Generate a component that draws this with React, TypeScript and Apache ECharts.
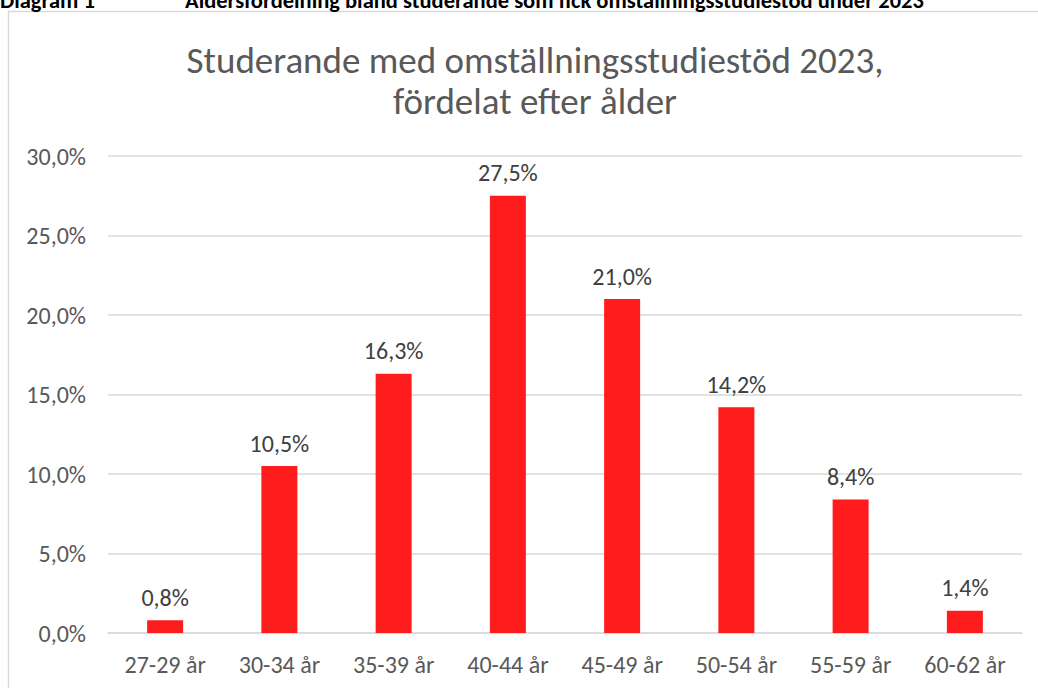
import React, { useEffect, useRef } from "react";
import * as echarts from "echarts";

const categories = ["27-29 år", "30-34 år", "35-39 år", "40-44 år", "45-49 år", "50-54 år", "55-59 år", "60-62 år"];
const shares = [0.8, 10.5, 16.3, 27.5, 21.0, 14.2, 8.4, 1.4];
const yTicks = { min: 0, max: 30, interval: 5 };

const titleLines = ["Studerande med omställningsstudiestöd 2023,", "fördelat efter ålder"];
const headerLabel = "Diagram 1";
const headerText = "Åldersfördelning bland studerande som fick omställningsstudiestöd under 2023";

const FONT = "Carlito, Calibri, 'Noto Sans', sans-serif";

const fmt = (v: number) => v.toFixed(1).replace(".", ",") + "%";

export default function App() {
  const ref = useRef<HTMLDivElement>(null);
  useEffect(() => {
    document.body.style.margin = "0";
    if (!ref.current) return;
    const chart = echarts.init(ref.current, null, { renderer: "svg" });
    chart.setOption({
      animation: false,
      backgroundColor: "#ffffff",
      textStyle: { fontFamily: FONT },
      title: {
        text: titleLines.join("\n"),
        left: 530,
        textAlign: "center",
        top: 35,
        textStyle: {
          fontFamily: FONT,
          fontSize: 37,
          fontWeight: "normal",
          color: "#595959",
          lineHeight: 41,
        },
      },
      graphic: [
        {
          type: "rect",
          shape: { x: 8.5, y: 11.5, width: 1100, height: 800 },
          style: { fill: "none", stroke: "#d9d9d9", lineWidth: 1.5 },
          silent: true,
          z: -1,
        },
        {
          type: "text",
          x: 0,
          y: 0,
          style: {
            text: headerLabel,
            fontFamily: FONT,
            fontSize: 22.5,
            fontWeight: "bold",
            fill: "#000000",
            verticalAlign: "middle",
          },
        },
        {
          type: "text",
          x: 185,
          y: 0,
          style: {
            text: headerText,
            fontFamily: FONT,
            fontSize: 22.5,
            fontWeight: "bold",
            fill: "#000000",
            verticalAlign: "middle",
          },
        },
      ],
      grid: { left: 108, right: 16, top: 156, bottom: 55, containLabel: false },
      xAxis: {
        type: "category",
        data: categories,
        axisLine: { lineStyle: { color: "#d9d9d9", width: 1.5 } },
        axisTick: { show: false },
        axisLabel: { color: "#595959", fontSize: 24, fontFamily: FONT, margin: 19 },
      },
      yAxis: {
        type: "value",
        min: yTicks.min,
        max: yTicks.max,
        interval: yTicks.interval,
        axisLine: { show: false },
        axisTick: { show: false },
        splitLine: { lineStyle: { color: "#d9d9d9", width: 1.5 } },
        axisLabel: {
          color: "#595959",
          fontSize: 24,
          fontFamily: FONT,
          margin: 22,
          formatter: (v: number) => fmt(v),
        },
      },
      series: [
        {
          type: "bar",
          data: shares,
          barWidth: 36,
          itemStyle: { color: "#ff1c1c" },
          label: {
            show: true,
            position: "top",
            distance: 11,
            color: "#404040",
            fontSize: 24,
            fontFamily: FONT,
            formatter: (p: any) => fmt(p.value),
          },
        },
      ],
    });
    return () => chart.dispose();
  }, []);
  return <div ref={ref} style={{ width: 1038, height: 688 }} />;
}
